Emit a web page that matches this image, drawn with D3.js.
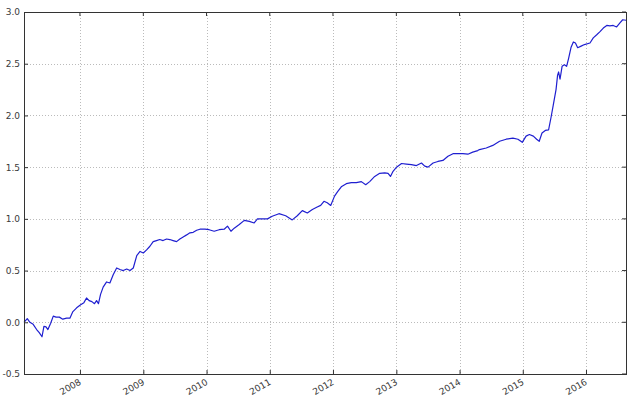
<!DOCTYPE html>
<html>
<head>
<meta charset="utf-8">
<script src="https://cdn.jsdelivr.net/npm/d3@7"></script>
<style>
  body { margin: 0; background: #fff; }
  svg text { font-family: "DejaVu Sans", sans-serif; font-size: 9px; fill: #3a3a3a; }
  .grid line { stroke: #aaa; stroke-width: 0.8; stroke-dasharray: 1,2; }
</style>
</head>
<body>
<svg id="chart" width="640" height="401"></svg>
<script>
// cumulative return
var dates = [
  "2007-02-12","2007-03-03","2007-03-18","2007-04-06","2007-04-26","2007-05-11","2007-05-27","2007-06-07",
  "2007-06-19","2007-06-30","2007-07-16","2007-07-31","2007-08-16","2007-09-04","2007-09-24","2007-10-16",
  "2007-11-04","2007-11-20","2007-12-13","2008-01-05","2008-01-24","2008-02-08","2008-02-23","2008-03-10",
  "2008-03-25","2008-04-06","2008-04-17","2008-04-29","2008-05-14","2008-06-03","2008-06-22","2008-07-11",
  "2008-07-31","2008-08-19","2008-09-07","2008-09-27","2008-10-16","2008-11-04","2008-11-24","2008-12-13",
  "2009-01-01","2009-01-20","2009-02-08","2009-02-27","2009-03-18","2009-04-06","2009-04-25","2009-05-15",
  "2009-06-03","2009-06-22","2009-07-12","2009-07-31","2009-08-19","2009-09-08","2009-09-27","2009-10-16",
  "2009-11-05","2009-11-24","2009-12-23","2010-01-16","2010-02-14","2010-03-15","2010-04-13","2010-05-02",
  "2010-05-22","2010-06-10","2010-07-09","2010-08-07","2010-09-05","2010-10-03","2010-10-22","2010-11-20",
  "2010-12-19","2011-01-15","2011-02-23","2011-04-03","2011-05-11","2011-06-09","2011-07-08","2011-08-06",
  "2011-09-04","2011-10-02","2011-10-22","2011-11-10","2011-11-29","2011-12-19","2012-01-10","2012-01-29",
  "2012-02-18","2012-03-18","2012-04-16","2012-05-15","2012-06-13","2012-07-08","2012-07-31","2012-08-29",
  "2012-09-27","2012-10-26","2012-11-14","2012-11-28","2012-12-13","2013-01-02","2013-01-31","2013-02-28",
  "2013-03-29","2013-04-27","2013-05-26","2013-06-14","2013-07-03","2013-08-01","2013-08-29","2013-09-27",
  "2013-10-26","2013-11-24","2013-12-23","2014-01-20","2014-02-18","2014-03-18","2014-04-16","2014-04-26",
  "2014-06-04","2014-07-12","2014-08-20","2014-09-27","2014-11-05","2014-12-04","2014-12-29","2015-01-20",
  "2015-02-08","2015-03-03","2015-03-22","2015-04-06","2015-04-22","2015-05-11","2015-05-30","2015-06-13",
  "2015-06-26","2015-07-12","2015-07-21","2015-07-27","2015-08-04","2015-08-16","2015-08-29","2015-09-11",
  "2015-09-23","2015-10-07","2015-10-20","2015-11-01","2015-11-14","2015-12-04","2015-12-23","2016-01-24",
  "2016-02-12","2016-03-03","2016-03-22","2016-04-10","2016-04-30","2016-05-18","2016-06-06","2016-06-26",
  "2016-07-15","2016-07-31","2016-08-19"
];
var values = [
  0.00, 0.035, 0.00, -0.02, -0.07, -0.10, -0.14, -0.04,
  -0.045, -0.07, -0.01, 0.06, 0.05, 0.05, 0.03, 0.04,
  0.04, 0.10, 0.14, 0.17, 0.19, 0.235, 0.21, 0.20,
  0.18, 0.21, 0.18, 0.27, 0.34, 0.39, 0.38, 0.46,
  0.525, 0.51, 0.50, 0.515, 0.50, 0.525, 0.645, 0.685,
  0.67, 0.70, 0.735, 0.78, 0.79, 0.80, 0.79, 0.805,
  0.80, 0.79, 0.78, 0.805, 0.825, 0.845, 0.865, 0.87,
  0.89, 0.90, 0.90, 0.895, 0.88, 0.895, 0.90, 0.93,
  0.88, 0.91, 0.945, 0.985, 0.975, 0.96, 1.00, 1.00,
  1.00, 1.025, 1.05, 1.03, 0.99, 1.03, 1.08, 1.057,
  1.09, 1.115, 1.13, 1.17, 1.155, 1.13, 1.22, 1.265,
  1.31, 1.34, 1.35, 1.35, 1.36, 1.33, 1.36, 1.41,
  1.44, 1.445, 1.44, 1.41, 1.46, 1.50, 1.535, 1.53,
  1.525, 1.515, 1.54, 1.51, 1.50, 1.54, 1.555, 1.565,
  1.605, 1.63, 1.63, 1.63, 1.625, 1.645, 1.66, 1.67,
  1.685, 1.71, 1.75, 1.77, 1.78, 1.77, 1.74, 1.80,
  1.815, 1.80, 1.77, 1.75, 1.83, 1.855, 1.86, 1.98,
  2.10, 2.25, 2.39, 2.42, 2.35, 2.475, 2.49, 2.475,
  2.555, 2.66, 2.71, 2.70, 2.655, 2.67, 2.685, 2.70,
  2.75, 2.78, 2.81, 2.845, 2.87, 2.865, 2.87, 2.855,
  2.895, 2.925, 2.92
];
var yTicks = [-0.5, 0.0, 0.5, 1.0, 1.5, 2.0, 2.5, 3.0];
var xTickYears = [2008, 2009, 2010, 2011, 2012, 2013, 2014, 2015, 2016];

var parse = d3.timeParse("%Y-%m-%d");
var data = dates.map(function(d, i){ return { date: parse(d), value: values[i] }; });

var svg = d3.select("#chart"),
    margin = { top: 12, right: 14, bottom: 27, left: 24 },
    width = +svg.attr("width") - margin.left - margin.right,
    height = +svg.attr("height") - margin.top - margin.bottom;

var g = svg.append("g").attr("transform", "translate(" + margin.left + "," + margin.top + ")");

var x = d3.scaleTime()
    .domain(d3.extent(data, function(d){ return d.date; }))
    .range([0, width]);

var y = d3.scaleLinear()
    .domain([-0.5, 3.0])
    .range([height, 0]);

var xTicks = xTickYears.map(function(yr){ return new Date(yr, 0, 1); });

// grid
g.append("g").attr("class", "grid")
  .selectAll("line").data(xTicks).enter().append("line")
  .attr("x1", function(d){ return Math.round(x(d)) + 0.5; })
  .attr("x2", function(d){ return Math.round(x(d)) + 0.5; })
  .attr("y1", 0).attr("y2", height);

g.append("g").attr("class", "grid")
  .selectAll("line").data(yTicks).enter().append("line")
  .attr("x1", 0).attr("x2", width)
  .attr("y1", function(d){ return Math.round(y(d)) + 0.5; })
  .attr("y2", function(d){ return Math.round(y(d)) + 0.5; });

// axes
var xAxis = g.append("g")
  .attr("transform", "translate(0," + height + ")")
  .call(d3.axisBottom(x).tickValues(xTicks).tickFormat(d3.timeFormat("%Y")).tickSizeInner(-4).tickSizeOuter(0));
xAxis.select(".domain").remove();
xAxis.selectAll("line").attr("stroke", "#333");
xAxis.selectAll("text")
  .attr("text-anchor", "end")
  .attr("y", 0)
  .attr("dy", "0.74em")
  .attr("transform", "translate(-2,4) rotate(-30)")
  .attr("font-size", null).attr("font-family", null).attr("fill", null);

var yAxis = g.append("g")
  .call(d3.axisLeft(y).tickValues(yTicks)
    .tickFormat(function(d){ return d3.format(".1f")(d).replace("\u2212", "-"); })
    .tickSizeInner(-4).tickSizeOuter(0).tickPadding(4));
yAxis.select(".domain").remove();
yAxis.selectAll("line").attr("stroke", "#333");
yAxis.selectAll("text").attr("font-size", null).attr("font-family", null).attr("fill", null);

// inward ticks on top and right
g.append("g").selectAll("line").data(xTicks).enter().append("line")
  .attr("x1", function(d){ return x(d); }).attr("x2", function(d){ return x(d); })
  .attr("y1", 0).attr("y2", 4).attr("stroke", "#333");
g.append("g").selectAll("line").data(yTicks).enter().append("line")
  .attr("x1", width).attr("x2", width - 4)
  .attr("y1", function(d){ return y(d); }).attr("y2", function(d){ return y(d); })
  .attr("stroke", "#333");

// the series
var line = d3.line()
  .x(function(d){ return x(d.date); })
  .y(function(d){ return y(d.value); });

g.append("path")
  .datum(data)
  .attr("fill", "none")
  .attr("stroke", "#1f1fd0")
  .attr("stroke-width", 1.2)
  .attr("stroke-linejoin", "round")
  .attr("d", line);

// frame
g.append("rect")
  .attr("x", 0.5).attr("y", 0.5)
  .attr("width", width).attr("height", height)
  .attr("fill", "none").attr("stroke", "#333").attr("stroke-width", 1);
</script>
</body>
</html>
